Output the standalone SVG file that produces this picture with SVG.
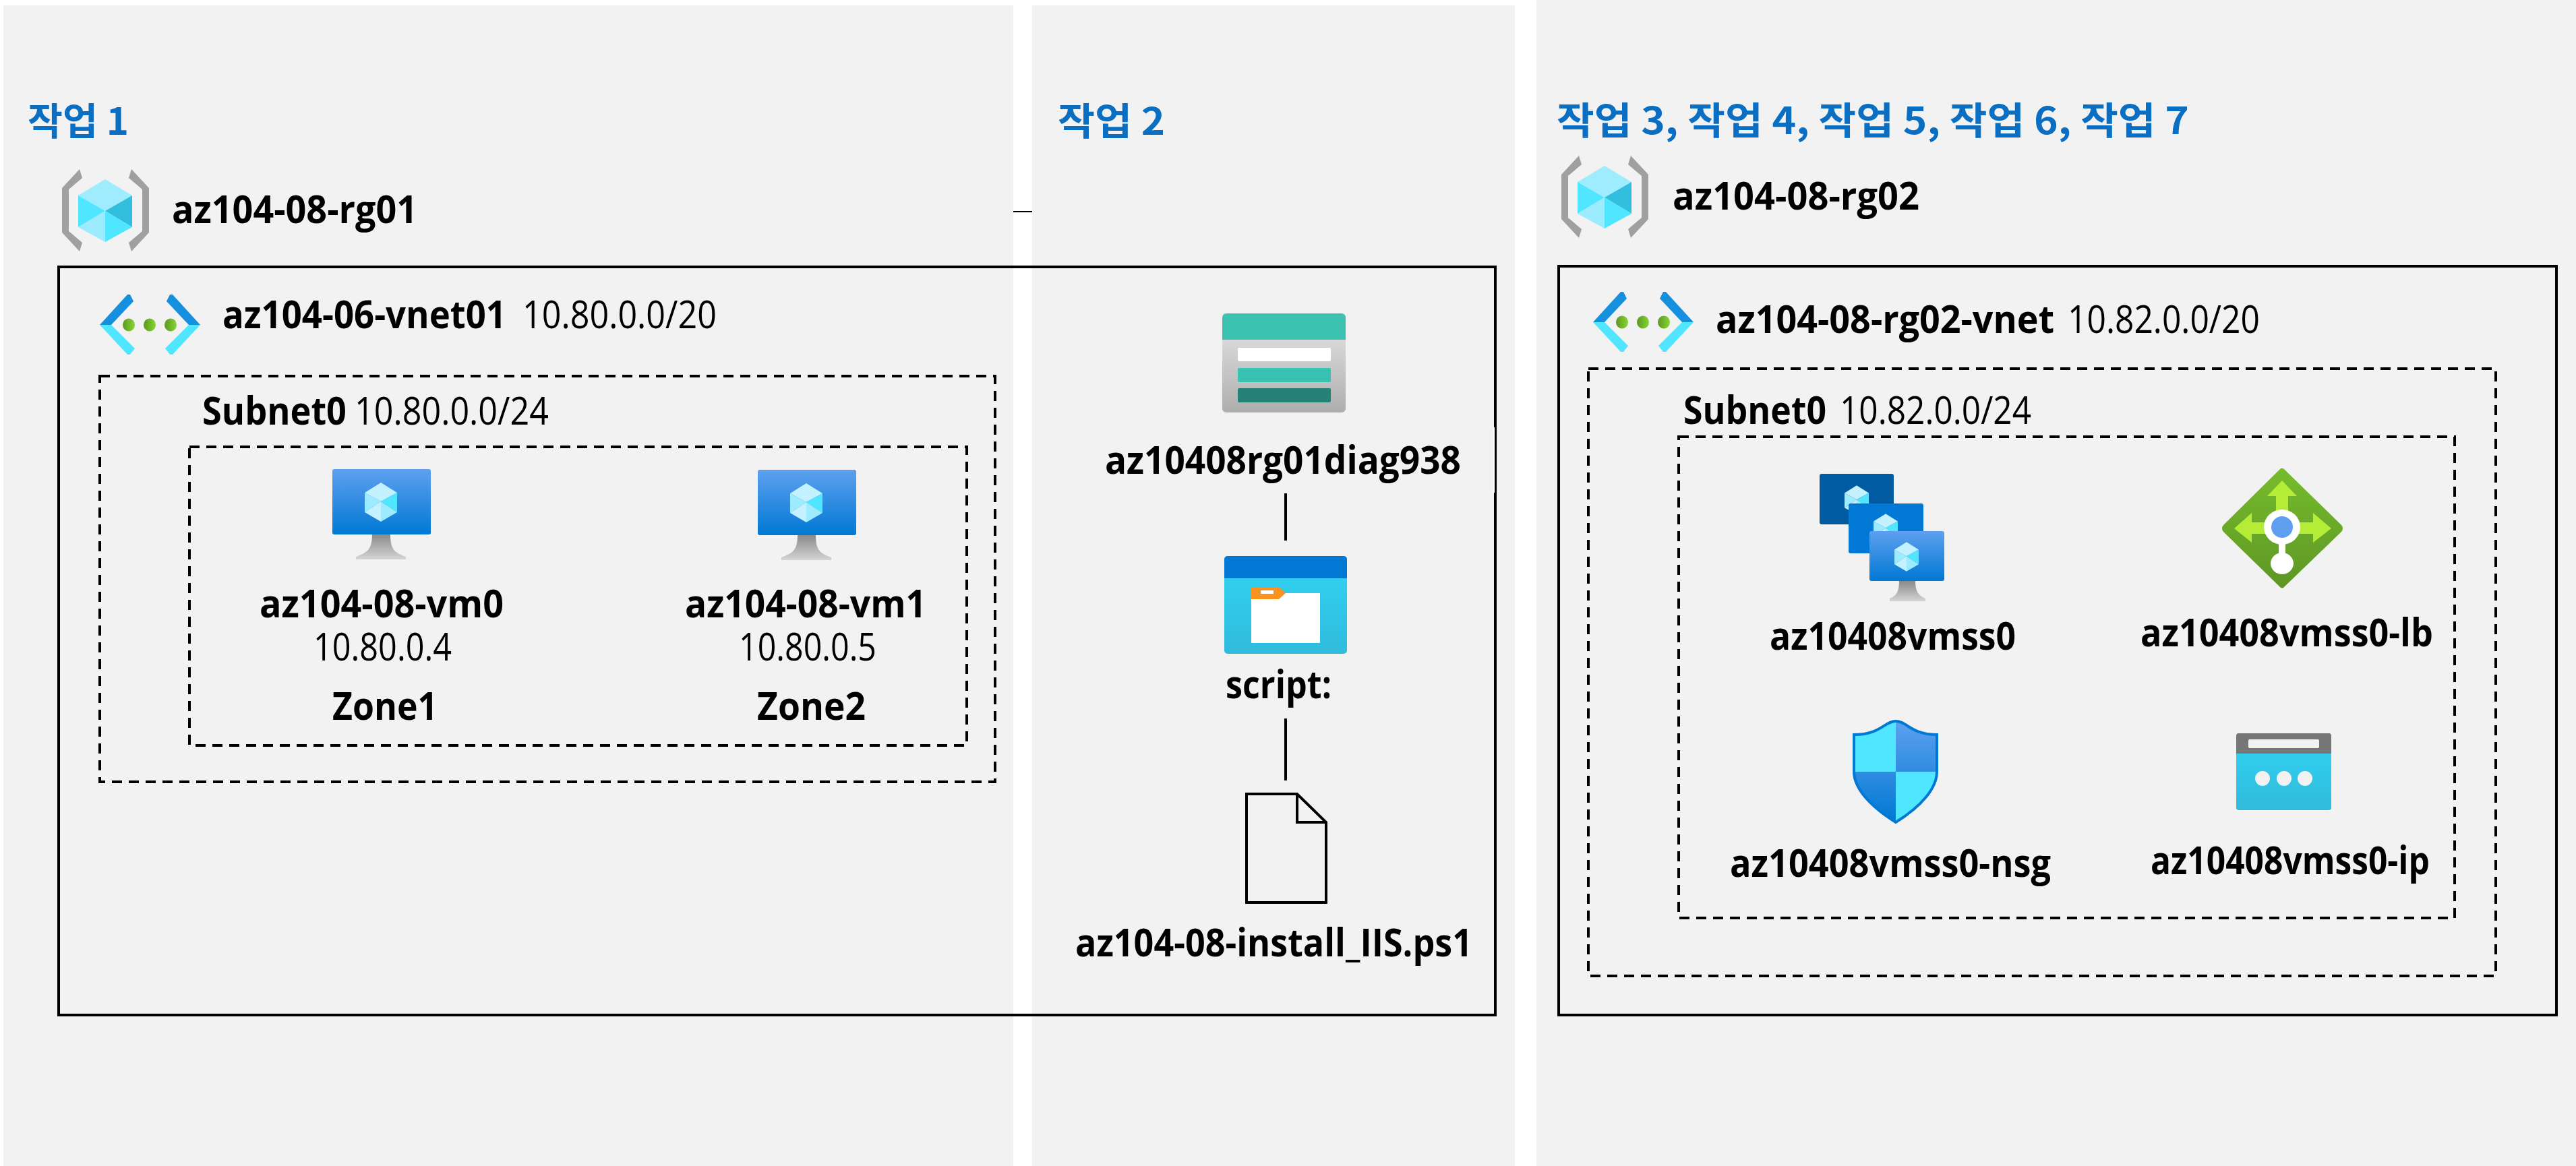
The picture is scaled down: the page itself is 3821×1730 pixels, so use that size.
<svg xmlns="http://www.w3.org/2000/svg" xmlns:xlink="http://www.w3.org/1999/xlink" width="3821" height="1730" viewBox="0 0 3821 1730">
<style>
text{font-family:"Open Sans","Noto Sans","Noto Sans CJK KR",sans-serif;fill:#000;font-size:57px}
.b{font-weight:700}
.r{font-weight:400}
.h{font-family:"Noto Sans CJK KR","Noto Sans",sans-serif;font-weight:700;fill:#0a6fc2;font-size:56px}
.panel{fill:#f2f2f2}
.box{fill:none;stroke:#000;stroke-width:4}
.dash{fill:none;stroke:#000;stroke-width:4;stroke-dasharray:15 10}
.conn{stroke:#000;stroke-width:4;fill:none}
</style>
<defs>
<linearGradient id="gScreen" x1="0" y1="0" x2="0" y2="1"><stop offset="0" stop-color="#5ea0ef"/><stop offset="1" stop-color="#0078d4"/></linearGradient>
<linearGradient id="gStand" x1="0" y1="0" x2="0" y2="1"><stop offset="0" stop-color="#8a8a8a"/><stop offset="1" stop-color="#d4d4d4"/></linearGradient>
<linearGradient id="gStore" x1="0" y1="0" x2="0" y2="1"><stop offset="0" stop-color="#e8e8e8"/><stop offset="1" stop-color="#adadad"/></linearGradient>
<linearGradient id="gFolder" x1="0" y1="0" x2="0" y2="1"><stop offset="0" stop-color="#32d4f5"/><stop offset="1" stop-color="#2fbbdc"/></linearGradient>
<linearGradient id="gLb" x1="0" y1="0" x2="0" y2="1"><stop offset="0" stop-color="#76bc2d"/><stop offset="1" stop-color="#5e9624"/></linearGradient>
<linearGradient id="gDot" x1="0" y1="0" x2="1" y2="0"><stop offset="0" stop-color="#5e9624"/><stop offset="1" stop-color="#86d633"/></linearGradient>
<linearGradient id="gShield" gradientUnits="userSpaceOnUse" x1="0" y1="1070" x2="0" y2="1220"><stop offset="0" stop-color="#5ea0ef"/><stop offset="1" stop-color="#0078d4"/></linearGradient>
<clipPath id="shieldClip"><path d="M2812 1070C2795 1070 2790 1090 2750 1090L2750 1145C2750 1170 2775 1197 2812 1220C2849 1197 2873 1170 2873 1145L2873 1090C2834 1090 2829 1070 2812 1070Z"/></clipPath>
<g id="rgIcon">
<polygon fill="#a0a0a0" points="118,251 92,279 92,345 118,373 122,360 102,343 102,281 122,264"/>
<polygon fill="#a0a0a0" points="195,251 221,279 221,345 195,373 191,360 211,343 211,281 191,264"/>
<polygon fill="#a0ecff" points="156,266 196,290 156,313 116,290"/>
<polygon fill="#50e6ff" points="116,290 156,313 116,337"/>
<polygon fill="#9cebff" points="116,337 156,313 156,359"/>
<polygon fill="#32bedd" points="196,290 196,337 156,313"/>
<polygon fill="#50e6ff" points="196,337 156,359 156,313"/>
</g>
<g id="vnetIcon">
<polygon fill="#1490df" points="148,482 189,437 193,437 198,447 165,482"/>
<polygon fill="#50e6ff" points="148,482 165,482 200,517 193,526 189,526"/>
<polygon fill="#1490df" points="297,482 256,437 252,437 247,447 280,482"/>
<polygon fill="#50e6ff" points="297,482 280,482 245,517 252,526 256,526"/>
<ellipse cx="191" cy="482" rx="9" ry="9.500" fill="url(#gDot)"/>
<ellipse cx="222" cy="482" rx="9" ry="9.500" fill="url(#gDot)"/>
<ellipse cx="253" cy="482" rx="9" ry="9.500" fill="url(#gDot)"/>
</g>
<g id="crystal">
<polygon fill="#c3f1ff" points="0,-29 24,-14 0,-1 -24,-14"/>
<polygon fill="#9cebff" points="-24,-14 0,-1 -24,15"/>
<polygon fill="#c3f1ff" points="-24,15 0,-1 0,29"/>
<polygon fill="#50e6ff" points="24,-14 24,15 0,-1"/>
<polygon fill="#9cebff" points="24,15 0,29 0,-1"/>
</g>
<g id="vmIcon">
<path fill="url(#gStand)" d="M552 793H579C579 815 585 820 602 826V830H528V826C545 820 552 815 552 793Z"/>
<rect x="493" y="696" width="146" height="97" rx="3" fill="url(#gScreen)"/>
<use xlink:href="#crystal" href="#crystal" transform="translate(565,745)"/>
</g>
</defs>

<g id="panels">
<rect class="panel" x="5" y="8" width="1498" height="1722"/>
<rect class="panel" x="1531" y="8" width="716" height="1722"/>
<rect class="panel" x="2279" y="0" width="1542" height="1730"/>
</g>

<g id="group-task1">
<text class="h" x="41" y="200" textLength="150" lengthAdjust="spacingAndGlyphs">작업 1</text>
</g>
<g id="group-task2">
<text class="h" x="1569" y="200" textLength="159" lengthAdjust="spacingAndGlyphs">작업 2</text>
</g>
<g id="group-task3">
<text class="h" x="2309" y="199" textLength="938" lengthAdjust="spacingAndGlyphs">작업 3, 작업 4, 작업 5, 작업 6, 작업 7</text>
</g>

<g id="rg01">
<use xlink:href="#rgIcon" href="#rgIcon"/>
<text class="b" x="255" y="331" textLength="364" lengthAdjust="spacingAndGlyphs">az104-08-rg01</text>
</g>
<g id="rg02">
<use xlink:href="#rgIcon" href="#rgIcon" transform="translate(2224,-20)"/>
<text class="b" x="2481" y="311" textLength="366" lengthAdjust="spacingAndGlyphs">az104-08-rg02</text>
</g>

<g id="rg01-box">
<rect class="box" x="87" y="396" width="2131" height="1110"/>
<rect x="2215" y="634" width="2" height="97" fill="#fff"/>
</g>
<g id="rg02-box"><rect class="box" x="2312" y="395" width="1480" height="1111"/></g>

<g id="vnet01">
<use xlink:href="#vnetIcon" href="#vnetIcon"/>
<text class="b" x="330" y="487" textLength="421" lengthAdjust="spacingAndGlyphs">az104-06-vnet01</text>
<text class="r" x="775" y="487" textLength="288" lengthAdjust="spacingAndGlyphs">10.80.0.0/20</text>
<rect class="dash" x="148" y="558" width="1328" height="602"/>
</g>
<g id="subnet0-left">
<text class="b" x="300" y="630" textLength="214" lengthAdjust="spacingAndGlyphs">Subnet0</text>
<text class="r" x="526" y="630" textLength="288" lengthAdjust="spacingAndGlyphs">10.80.0.0/24</text>
<rect class="dash" x="281" y="663" width="1153" height="443"/>
</g>
<g id="vm0">
<use xlink:href="#vmIcon" href="#vmIcon"/>
<text class="b" x="385" y="916" textLength="362" lengthAdjust="spacingAndGlyphs">az104-08-vm0</text>
<text class="r" x="465" y="980" textLength="205" lengthAdjust="spacingAndGlyphs">10.80.0.4</text>
<text class="b" x="493" y="1068" textLength="156" lengthAdjust="spacingAndGlyphs">Zone1</text>
</g>
<g id="vm1">
<use xlink:href="#vmIcon" href="#vmIcon" transform="translate(631,1)"/>
<text class="b" x="1016" y="916" textLength="358" lengthAdjust="spacingAndGlyphs">az104-08-vm1</text>
<text class="r" x="1096" y="980" textLength="204" lengthAdjust="spacingAndGlyphs">10.80.0.5</text>
<text class="b" x="1123" y="1068" textLength="161" lengthAdjust="spacingAndGlyphs">Zone2</text>
</g>

<g id="storage">
<rect x="1813" y="465" width="183" height="147" rx="6" fill="url(#gStore)"/>
<path d="M1813 504V471a6 6 0 0 1 6-6H1990a6 6 0 0 1 6 6V504Z" fill="#3bc2b0"/>
<rect x="1836" y="516" width="138" height="20" rx="2" fill="#fff"/>
<rect x="1836" y="546" width="138" height="21" rx="2" fill="#37c2b1"/>
<rect x="1836" y="576" width="138" height="21" rx="2" fill="#258277"/>
<text class="b" x="1639" y="703" textLength="528" lengthAdjust="spacingAndGlyphs">az10408rg01diag938</text>
</g>
<g id="folder">
<rect x="1816" y="825" width="182" height="145" rx="5" fill="url(#gFolder)"/>
<path d="M1816 858V830a5 5 0 0 1 5-5H1993a5 5 0 0 1 5 5V858Z" fill="#0078d4"/>
<rect x="1856" y="880" width="102" height="74" rx="1" fill="#fff"/>
<polygon points="1856,871 1897,871 1907,880 1897,889 1856,889" fill="#f7931e"/>
<rect x="1870" y="876" width="19" height="5" fill="#fff"/>
<text class="b" x="1818" y="1036" textLength="157" lengthAdjust="spacingAndGlyphs">script:</text>
</g>
<g id="script-file">
<path d="M1849 1178H1924L1967 1220V1339H1849Z" fill="none" stroke="#000" stroke-width="4"/>
<path d="M1924 1178V1220H1967" fill="none" stroke="#000" stroke-width="4"/>
<text class="b" x="1595" y="1419" textLength="589" lengthAdjust="spacingAndGlyphs">az104-08-install_IIS.ps1</text>
</g>

<g id="vnet02">
<use xlink:href="#vnetIcon" href="#vnetIcon" transform="translate(2215,-4)"/>
<text class="b" x="2545" y="494" textLength="502" lengthAdjust="spacingAndGlyphs">az104-08-rg02-vnet</text>
<text class="r" x="3067" y="494" textLength="285" lengthAdjust="spacingAndGlyphs">10.82.0.0/20</text>
<rect class="dash" x="2356" y="547" width="1346" height="901"/>
</g>
<g id="subnet0-right">
<text class="b" x="2497" y="629" textLength="212" lengthAdjust="spacingAndGlyphs">Subnet0</text>
<text class="r" x="2729" y="629" textLength="284" lengthAdjust="spacingAndGlyphs">10.82.0.0/24</text>
<rect class="dash" x="2490" y="648" width="1151" height="714"/>
</g>

<g id="vmss">
<rect x="2699" y="703" width="110" height="75" rx="3" fill="#005ba1"/>
<use xlink:href="#crystal" href="#crystal" transform="translate(2754,742) scale(.75)"/>
<rect x="2742" y="747" width="111" height="74" rx="3" fill="#0078d4"/>
<use xlink:href="#crystal" href="#crystal" transform="translate(2797,784) scale(.75)"/>
<path fill="url(#gStand)" d="M2817 862H2841C2841 878 2846 884 2856 888V892H2803V888C2813 884 2817 878 2817 862Z"/>
<rect x="2773" y="788" width="111" height="74" rx="3" fill="url(#gScreen)"/>
<use xlink:href="#crystal" href="#crystal" transform="translate(2828,826) scale(.75)"/>
<text class="b" x="2625" y="964" textLength="365" lengthAdjust="spacingAndGlyphs">az10408vmss0</text>
</g>
<g id="lb">
<path d="M3381 697Q3385 692 3389 697L3473 779Q3477 784 3473 789L3389 870Q3385 875 3381 870L3298 789Q3294 784 3298 779Z" fill="url(#gLb)"/>
<polygon fill="#b4ec36" points="3385,713 3407,736 3394,736 3394,775 3431,775 3431,761 3458,784 3431,805 3431,792 3340,792 3340,805 3314,784 3340,761 3340,775 3376,775 3376,736 3363,736"/>
<ellipse cx="3385" cy="782" rx="27" ry="26" fill="#fff"/>
<ellipse cx="3385" cy="782" rx="16" ry="16" fill="#5ea0ef"/>
<rect x="3380" y="805" width="10" height="20" fill="#fff"/>
<ellipse cx="3385" cy="836" rx="17" ry="16" fill="#fff"/>
<text class="b" x="3175" y="959" textLength="434" lengthAdjust="spacingAndGlyphs">az10408vmss0-lb</text>
</g>
<g id="nsg">
<g clip-path="url(#shieldClip)">
<rect x="2750" y="1070" width="62" height="75" fill="#50e6ff"/>
<rect x="2812" y="1070" width="61" height="75" fill="url(#gShield)"/>
<rect x="2750" y="1145" width="62" height="75" fill="url(#gShield)"/>
<rect x="2812" y="1145" width="61" height="75" fill="#50e6ff"/>
</g>
<path d="M2812 1070C2795 1070 2790 1090 2750 1090L2750 1145C2750 1170 2775 1197 2812 1220C2849 1197 2873 1170 2873 1145L2873 1090C2834 1090 2829 1070 2812 1070Z" fill="none" stroke="#0078d4" stroke-width="4"/>
<text class="b" x="2566" y="1301" textLength="476" lengthAdjust="spacingAndGlyphs">az10408vmss0-nsg</text>
</g>
<g id="ip">
<rect x="3317" y="1088" width="141" height="114" rx="4" fill="url(#gFolder)"/>
<path d="M3317 1118V1092a4 4 0 0 1 4-4H3454a4 4 0 0 1 4 4V1118Z" fill="#767676"/>
<rect x="3335" y="1097" width="105" height="13" rx="2" fill="#f2f2f2"/>
<ellipse cx="3356" cy="1155" rx="11" ry="11" fill="#f2f2f2"/>
<ellipse cx="3388" cy="1155" rx="11" ry="11" fill="#f2f2f2"/>
<ellipse cx="3419" cy="1155" rx="11" ry="11" fill="#f2f2f2"/>
<text class="b" x="3190" y="1297" textLength="414" lengthAdjust="spacingAndGlyphs">az10408vmss0-ip</text>
</g>

<g id="connectors">
<line class="conn" x1="1503" y1="314" x2="1531" y2="314" style="stroke-width:2"/>
<line class="conn" x1="1907" y1="732" x2="1907" y2="802"/>
<line class="conn" x1="1907" y1="1066" x2="1907" y2="1158"/>
</g>
</svg>
